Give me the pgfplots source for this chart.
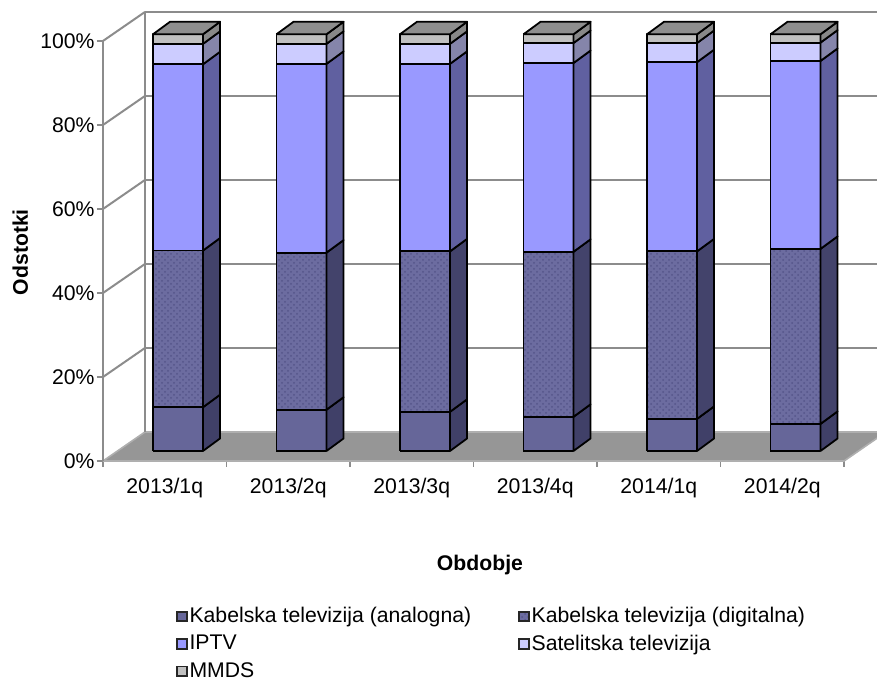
\documentclass[border=0pt]{standalone}
\usepackage{pgfplots}
\pgfplotsset{compat=1.18}
\usepackage{pgfplotstable}
\usepackage{fontspec}
\setmainfont{Liberation Sans}
\usetikzlibrary{patterns}

\definecolor{anF}{HTML}{666699}
\definecolor{anS}{HTML}{404068}
\definecolor{dgF}{HTML}{6C6CA0}
\definecolor{dgS}{HTML}{43436B}
\definecolor{dgD}{HTML}{55558A}
\definecolor{ipF}{HTML}{9999FF}
\definecolor{ipS}{HTML}{6060A0}
\definecolor{saF}{HTML}{CCCCFF}
\definecolor{saS}{HTML}{8585AA}
\definecolor{mmF}{HTML}{C0C0C0}
\definecolor{mmS}{HTML}{888888}
\definecolor{topC}{HTML}{8E8E8E}
\definecolor{floorC}{HTML}{969696}
\definecolor{gridC}{HTML}{8C8C8C}

\newcommand\fsz{\fontsize{10.6}{12.7}\selectfont}

% shares (%) per quarter
\pgfplotstableread{
x an dig iptv sat mmds
0 10.5 37.6 44.7 4.9 2.3
1 9.9 37.7 45.3 4.8 2.3
2 9.4 38.5 45.0 4.8 2.3
3 8.2 39.6 45.3 4.8 2.1
4 7.7 40.2 45.4 4.6 2.1
5 6.5 42.0 45.1 4.4 2.0
}\data

\def\bs{0.107}\def\bw{0.405}\def\dx{0.138}\def\dy{3.0}
\tikzset{fr/.style={draw=black, line width=0.9pt, line join=round}}

\newcommand\quadp[9]{\edef\tmp{\noexpand\addplot[forget plot,#1] coordinates {(#2,#3) (#4,#5) (#6,#7) (#8,#9) (#2,#3)};}\tmp}

\newcommand\segment[4]{%
  \pgfmathsetmacro\ya{#1}\pgfmathsetmacro\yb{#2}%
  \pgfmathsetmacro\yaa{#1+\dy}\pgfmathsetmacro\ybb{#2+\dy}%
  \quadp{#3}{\xL}{\ya}{\xR}{\ya}{\xR}{\yb}{\xL}{\yb}%
  \quadp{#4}{\xR}{\ya}{\xRR}{\yaa}{\xRR}{\ybb}{\xR}{\yb}%
}

\newcommand\drawbar[1]{%
  \pgfplotstablegetelem{#1}{an}\of\data\pgfmathsetmacro\cA{\pgfplotsretval}%
  \pgfplotstablegetelem{#1}{dig}\of\data\pgfmathsetmacro\cB{\cA+\pgfplotsretval}%
  \pgfplotstablegetelem{#1}{iptv}\of\data\pgfmathsetmacro\cC{\cB+\pgfplotsretval}%
  \pgfplotstablegetelem{#1}{sat}\of\data\pgfmathsetmacro\cD{\cC+\pgfplotsretval}%
  \pgfplotstablegetelem{#1}{mmds}\of\data\pgfmathsetmacro\cE{\cD+\pgfplotsretval}%
  \pgfmathsetmacro\xL{#1+\bs-\bw/2}\pgfmathsetmacro\xR{#1+\bs+\bw/2}%
  \pgfmathsetmacro\xLL{\xL+\dx}\pgfmathsetmacro\xRR{\xR+\dx}%
  \segment{0}{\cA}{fr,fill=anF}{fr,fill=anS}%
  \segment{\cA}{\cB}{fr,fill=dgF,postaction={pattern=crosshatch dots,pattern color=dgD}}{fr,fill=dgS}%
  \segment{\cB}{\cC}{fr,fill=ipF}{fr,fill=ipS}%
  \segment{\cC}{\cD}{fr,fill=saF}{fr,fill=saS}%
  \segment{\cD}{\cE}{fr,fill=mmF}{fr,fill=mmS}%
  \pgfmathsetmacro\yt{\cE}\pgfmathsetmacro\ytt{\cE+\dy}%
  \quadp{fr,fill=topC}{\xL}{\yt}{\xLL}{\ytt}{\xRR}{\ytt}{\xR}{\yt}%
}

\begin{document}
\begin{tikzpicture}
\path[use as bounding box] (-51.5pt,-111pt) rectangle (387pt,230.5pt);
\begin{axis}[
  at={(0,0)}, anchor=south west,
  scale only axis, width=387pt, height=230.5pt,
  xmin=-0.5, xmax=5.767, ymin=-2.4, ymax=108.23,
  clip=false,
  axis line style={draw=none},
  /pgf/number format/assume math mode=true,
  tick align=outside, tick pos=left,
  major tick length=3pt, minor tick length=3pt,
  ytick={-2.4,17.76,37.92,58.08,78.24,98.4},
  yticklabels={0\%,20\%,40\%,60\%,80\%,100\%},
  ytick style={gridC, line width=0.8pt},
  xtick={0,...,5},
  xticklabels={2013/1q,2013/2q,2013/3q,2013/4q,2014/1q,2014/2q},
  every major x tick/.append style={draw=none},
  minor xtick={-0.5,0.5,...,5.5},
  every minor tick/.append style={gridC, line width=0.8pt},
  tick label style={font=\fsz},
  yticklabel style={inner sep=1pt},
  xticklabel style={yshift=-2pt},
  label style={font=\fsz\bfseries},
  xlabel={Obdobje},
  xlabel style={at={(axis description cs:0.487,-0.226)}, anchor=center},
  ylabel={Odstotki},
  ylabel style={at={(axis description cs:-0.107,0.453)}, anchor=center, rotate=0},
  legend image code/.code={\draw[#1,draw=black!85,line width=0.9pt] (0pt,-2.4pt) rectangle (4.8pt,2.4pt);},
  legend columns=2,
  legend cell align=left,
  legend style={at={(0.094,-0.312)}, anchor=north west, draw=none, fill=none,
    font=\fsz, row sep=2.6pt, inner sep=0pt,
    /tikz/column 2/.style={column sep=22.5pt},
    nodes={inner sep=1pt}},
]
% floor
\addplot[forget plot, fill=floorC, draw=gridC!70, line width=0.8pt] coordinates {(-0.5,-2.4) (5.5,-2.4) (5.84,4.56) (-0.16,4.56) (-0.5,-2.4)};
% back wall gridlines
\addplot[forget plot, gridC, line width=1pt] coordinates {(-0.16,24.72) (5.84,24.72)};
\addplot[forget plot, gridC, line width=1pt] coordinates {(-0.16,44.88) (5.84,44.88)};
\addplot[forget plot, gridC, line width=1pt] coordinates {(-0.16,65.04) (5.84,65.04)};
\addplot[forget plot, gridC, line width=1pt] coordinates {(-0.16,85.2) (5.84,85.2)};
\addplot[forget plot, gridC, line width=1pt] coordinates {(-0.16,105.36) (5.84,105.36)};
% side wall
\addplot[forget plot, gridC, line width=1pt] coordinates {(-0.5,17.76) (-0.16,24.72)};
\addplot[forget plot, gridC, line width=1pt] coordinates {(-0.5,37.92) (-0.16,44.88)};
\addplot[forget plot, gridC, line width=1pt] coordinates {(-0.5,58.08) (-0.16,65.04)};
\addplot[forget plot, gridC, line width=1pt] coordinates {(-0.5,78.24) (-0.16,85.2)};
\addplot[forget plot, gridC, line width=1pt] coordinates {(-0.5,98.4) (-0.16,105.36)};
\addplot[forget plot, gridC, line width=1pt] coordinates {(-0.5,-2.4) (-0.5,98.4)};
\addplot[forget plot, gridC, line width=1pt] coordinates {(-0.16,4.56) (-0.16,105.36)};
% bars
\drawbar{0}\drawbar{1}\drawbar{2}\drawbar{3}\drawbar{4}\drawbar{5}
% legend
\addlegendimage{fill=anF}
\addlegendimage{fill=dgF,postaction={pattern=crosshatch dots,pattern color=dgD}}
\addlegendimage{fill=ipF}
\addlegendimage{fill=saF}
\addlegendimage{fill=mmF}
\legend{Kabelska televizija (analogna),Kabelska televizija (digitalna),IPTV,Satelitska televizija,MMDS}
\end{axis}
\end{tikzpicture}
\end{document}
